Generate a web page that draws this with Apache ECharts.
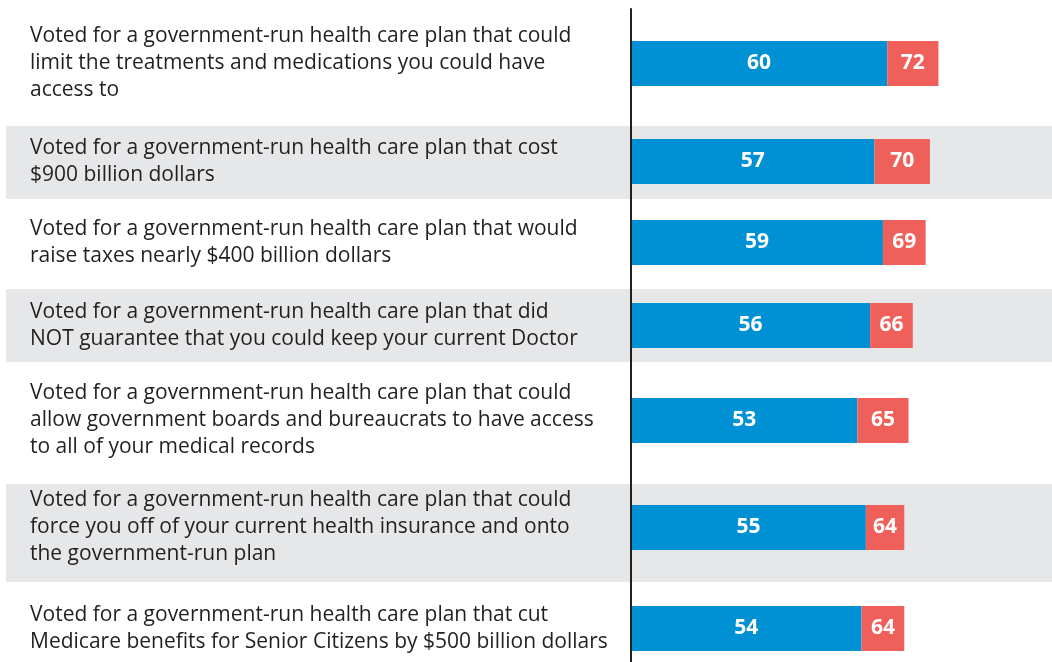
<!DOCTYPE html>
<html>
<head>
<meta charset="utf-8">
<script src="https://cdn.jsdelivr.net/npm/echarts@6/dist/echarts.min.js"></script>
<style>
html,body{margin:0;padding:0;background:#fff;}
#chart{width:1052px;height:662px;}
</style>
</head>
<body>
<div id="chart"></div>
<script>
var categories = [
  "Voted for a government-run health care plan that could\nlimit the treatments and medications you could have\naccess to",
  "Voted for a government-run health care plan that cost\n$900 billion dollars",
  "Voted for a government-run health care plan that would\nraise taxes nearly $400 billion dollars",
  "Voted for a government-run health care plan that did\nNOT guarantee that you could keep your current Doctor",
  "Voted for a government-run health care plan that could\nallow government boards and bureaucrats to have access\nto all of your medical records",
  "Voted for a government-run health care plan that could\nforce you off of your current health insurance and onto\nthe government-run plan",
  "Voted for a government-run health care plan that cut\nMedicare benefits for Senior Citizens by $500 billion dollars"
];
var blueValues = [60, 57, 59, 56, 53, 55, 54];
var totalValues = [72, 70, 69, 66, 65, 64, 64];

// layout (pixels): row boundaries for each panel, chosen so bars sit centered in their row
var rowBounds = [9, 118, 205, 280, 371, 470, 585, 672];
var bands = [[126, 73], [289, 73], [484, 98]];

var grids = [], xAxes = [], yAxes = [], series = [];
for (var i = 0; i < categories.length; i++) {
  grids.push({
    left: 631, width: 427, top: rowBounds[i], height: rowBounds[i + 1] - rowBounds[i],
    containLabel: false, outerBoundsMode: 'none'
  });
  xAxes.push({ type: 'value', gridIndex: i, min: 0, max: 100, show: false });
  yAxes.push({
    type: 'category', gridIndex: i, data: [categories[i]], z: 5,
    axisLine: { show: true, lineStyle: { color: '#231f20', width: 2 } },
    axisTick: { show: false },
    splitLine: { show: false },
    axisLabel: {
      show: true, interval: 0, align: 'left', margin: 601, padding: [5, 0, 0, 0],
      color: '#231f20', fontFamily: 'Open Sans', fontSize: 21, lineHeight: 27
    }
  });
  series.push({
    type: 'bar', xAxisIndex: i, yAxisIndex: i, stack: 's' + i, barWidth: 45,
    data: [blueValues[i]],
    itemStyle: { color: '#0091d5' },
    label: { show: true, position: 'inside', color: '#fff', fontFamily: 'Open Sans', fontWeight: 'bold', fontSize: 21 },
    silent: true
  });
  series.push({
    type: 'bar', xAxisIndex: i, yAxisIndex: i, stack: 's' + i, barWidth: 45,
    data: [totalValues[i] - blueValues[i]],
    itemStyle: { color: '#f0605b' },
    label: {
      show: true, position: 'inside', color: '#fff', fontFamily: 'Open Sans', fontWeight: 'bold', fontSize: 21,
      formatter: (function (t) { return function () { return String(t); }; })(totalValues[i])
    },
    silent: true
  });
}

var graphics = bands.map(function (b) {
  return { type: 'rect', left: 6, top: b[0], z: -10, shape: { width: 1046, height: b[1] }, style: { fill: '#e6e7e8' }, silent: true };
});

var chart = echarts.init(document.getElementById('chart'), null, { renderer: 'canvas' });
chart.setOption({
  animation: false,
  backgroundColor: '#ffffff',
  graphic: graphics,
  grid: grids,
  xAxis: xAxes,
  yAxis: yAxes,
  series: series
});
</script>
</body>
</html>
